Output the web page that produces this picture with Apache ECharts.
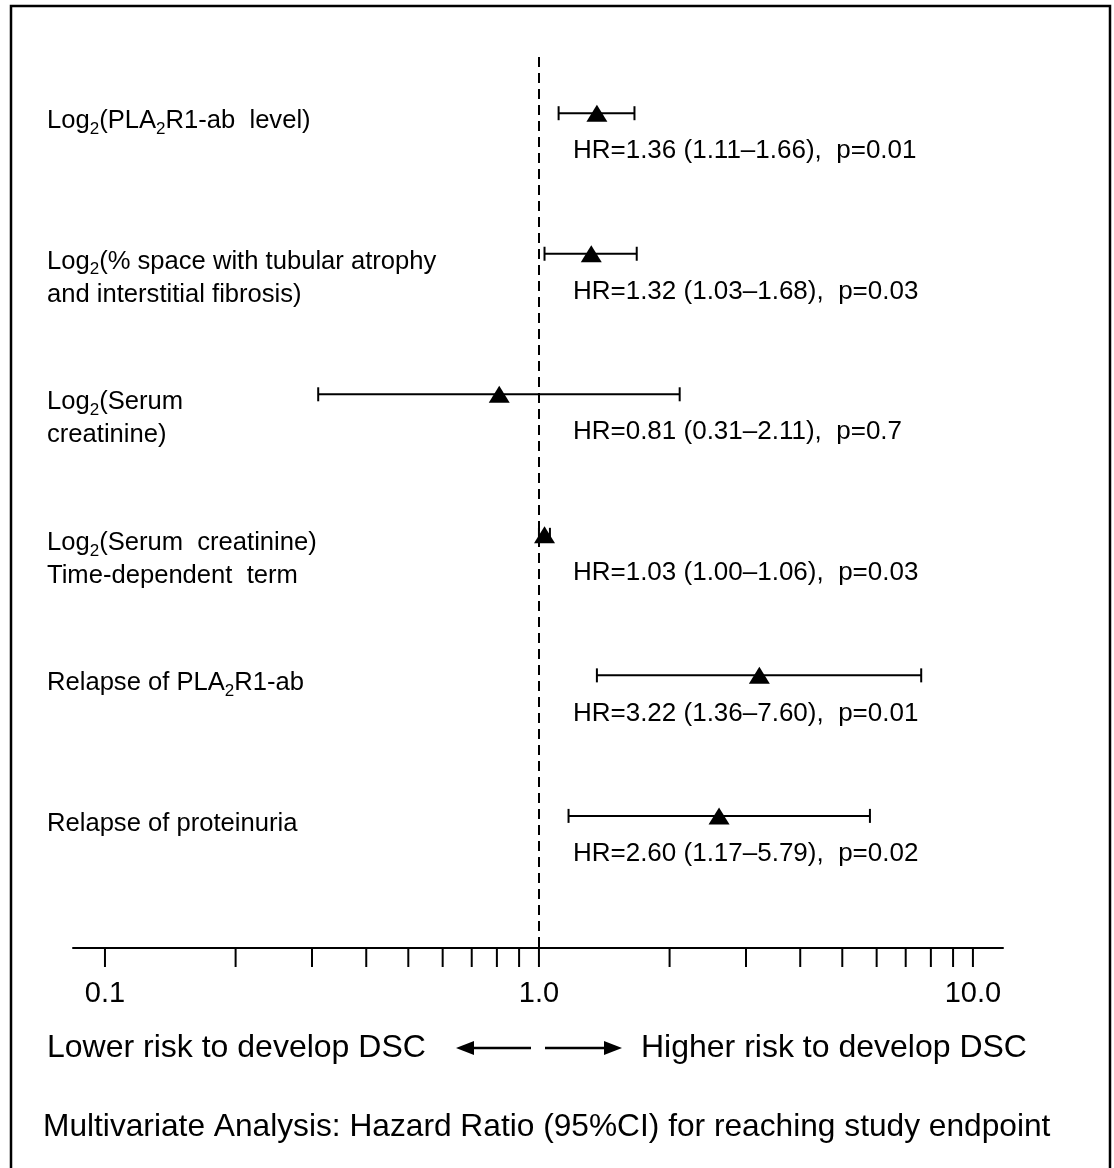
<!DOCTYPE html>
<html>
<head>
<meta charset="utf-8">
<script src="https://cdn.jsdelivr.net/npm/echarts@6/dist/echarts.min.js"></script>
<style>
  html, body { margin: 0; padding: 0; background: #fff; }
  #chart { width: 1114px; height: 1168px; }
</style>
</head>
<body>
<div id="chart"></div>
<script>
// Covariates (rich text: n = normal, s = subscript)
const covariates = [
  '{n|Log}{s|2}{n|(PLA}{s|2}{n|R1-ab  level)}',
  '{n|Log}{s|2}{n|(% space with tubular atrophy}\n{n|and interstitial fibrosis)}',
  '{n|Log}{s|2}{n|(Serum}\n{n|creatinine)}',
  '{n|Log}{s|2}{n|(Serum  creatinine)}\n{n|Time-dependent  term}',
  '{n|Relapse of PLA}{s|2}{n|R1-ab}',
  '{n|Relapse of proteinuria}'
];
const hazardRatio = [1.36, 1.32, 0.81, 1.03, 3.22, 2.60];
const ciLower = [1.11, 1.03, 0.31, 1.00, 1.36, 1.17];
const ciUpper = [1.66, 1.68, 2.11, 1.06, 7.60, 5.79];
const pValue = ['0.01', '0.03', '0.7', '0.03', '0.01', '0.02'];

// Log-axis tick marks and labelled ticks
const tickValues = [0.1, 0.2, 0.3, 0.4, 0.5, 0.6, 0.7, 0.8, 0.9, 1, 2, 3, 4, 5, 6, 7, 8, 9, 10];
const labelValues = [0.1, 1, 10];
const tickLabels = ['0.1', '1.0', '10.0'];

const FONT = '"Liberation Sans", Arial, Helvetica, sans-serif';
const Y_MIN = -0.4;
const Y_MAX = 5.94;

const hrText = hazardRatio.map((h, i) =>
  'HR=' + h.toFixed(2) + ' (' + ciLower[i].toFixed(2) + '\u2013' + ciUpper[i].toFixed(2) + '),  p=' + pValue[i]);

const chart = echarts.init(document.getElementById('chart'), null, { renderer: 'canvas' });

function renderInterval(params, api) {
  const idx = params.dataIndex;
  const row = api.value(2);
  const p0 = api.coord([api.value(0), row]);
  const p1 = api.coord([api.value(1), row]);
  const ref = api.coord([1, row]);
  const y = p0[1];
  const stroke = { stroke: '#000', lineWidth: 2 };
  return {
    type: 'group',
    children: [
      { type: 'line', shape: { x1: p0[0], y1: y, x2: p1[0], y2: y }, style: stroke },
      { type: 'line', shape: { x1: p0[0], y1: y - 7, x2: p0[0], y2: y + 7 }, style: stroke },
      { type: 'line', shape: { x1: p1[0], y1: y - 7, x2: p1[0], y2: y + 7 }, style: stroke },
      {
        type: 'text', x: ref[0] + 34, y: y + 38,
        style: { text: hrText[idx], fill: '#000', fontSize: 26, fontFamily: FONT, align: 'left', verticalAlign: 'middle' }
      },
      {
        type: 'text', x: 47, y: y - 8.5,
        style: {
          text: covariates[idx], align: 'left', verticalAlign: 'top',
          rich: {
            n: { fontSize: 25.6, fontFamily: FONT, fill: '#000', lineHeight: 33, verticalAlign: 'middle' },
            s: { fontSize: 17, fontFamily: FONT, fill: '#000', lineHeight: 20, verticalAlign: 'bottom' }
          }
        }
      }
    ]
  };
}

function renderTick(params, api) {
  const v = api.value(0);
  const base = api.coord([v, Y_MAX]);
  const children = [
    { type: 'line', shape: { x1: base[0], y1: base[1], x2: base[0], y2: base[1] + 19 }, style: { stroke: '#000', lineWidth: 2 } }
  ];
  const li = labelValues.indexOf(v);
  if (li >= 0) {
    children.push({
      type: 'text', x: base[0], y: base[1] + 46,
      style: { text: tickLabels[li], fill: '#000', fontSize: 29, fontFamily: FONT, align: 'center', verticalAlign: 'middle' }
    });
  }
  return { type: 'group', children: children };
}

const rowIdx = hazardRatio.map((_, i) => i);

chart.setOption({
  backgroundColor: '#fff',
  animation: false,
  grid: { left: 73, right: 111, top: 57, bottom: 220 },
  xAxis: {
    type: 'log', logBase: 10, min: 0.0844, max: 11.73,
    axisLine: { show: true, onZero: false, lineStyle: { color: '#000', width: 2 } },
    axisTick: { show: false }, axisLabel: { show: false }, splitLine: { show: false }
  },
  yAxis: {
    type: 'value', inverse: true, min: Y_MIN, max: Y_MAX, show: false
  },
  graphic: [
    { type: 'rect', shape: { x: 11, y: 6, width: 1099, height: 1200 }, style: { fill: 'none', stroke: '#000', lineWidth: 2.5 } },
    { type: 'text', x: 47, y: 1048, style: { text: 'Lower risk to develop DSC', fontSize: 32, fontFamily: FONT, fill: '#000', verticalAlign: 'middle' } },
    { type: 'line', shape: { x1: 470, y1: 1048, x2: 531, y2: 1048 }, style: { stroke: '#000', lineWidth: 2.5 } },
    { type: 'polygon', shape: { points: [[456, 1048], [474, 1041], [474, 1055]] }, style: { fill: '#000' } },
    { type: 'line', shape: { x1: 545, y1: 1048, x2: 606, y2: 1048 }, style: { stroke: '#000', lineWidth: 2.5 } },
    { type: 'polygon', shape: { points: [[622, 1048], [604, 1041], [604, 1055]] }, style: { fill: '#000' } },
    { type: 'text', x: 641, y: 1048, style: { text: 'Higher risk to develop DSC', fontSize: 32, fontFamily: FONT, fill: '#000', verticalAlign: 'middle' } },
    { type: 'text', x: 43, y: 1127, style: { text: 'Multivariate Analysis: Hazard Ratio (95%CI) for reaching study endpoint', fontSize: 31.7, fontFamily: FONT, fill: '#000', verticalAlign: 'middle' } }
  ],
  series: [
    {
      type: 'custom', name: 'ci', clip: false,
      renderItem: renderInterval,
      encode: { x: [0, 1], y: 2 },
      data: rowIdx.map(i => [ciLower[i], ciUpper[i], i])
    },
    {
      type: 'scatter', name: 'hr',
      symbol: 'triangle', symbolSize: [21, 17],
      itemStyle: { color: '#000', opacity: 1 },
      data: rowIdx.map(i => [hazardRatio[i], i]),
      markLine: {
        silent: true, symbol: 'none', label: { show: false },
        lineStyle: { color: '#000', width: 2, type: [10, 6] },
        data: [{ xAxis: 1 }]
      },
      z: 3
    },
    {
      type: 'custom', name: 'ticks', clip: false,
      renderItem: renderTick,
      encode: { x: 0, y: 1 },
      data: tickValues.map(v => [v, Y_MAX])
    }
  ]
});
</script>
</body>
</html>
